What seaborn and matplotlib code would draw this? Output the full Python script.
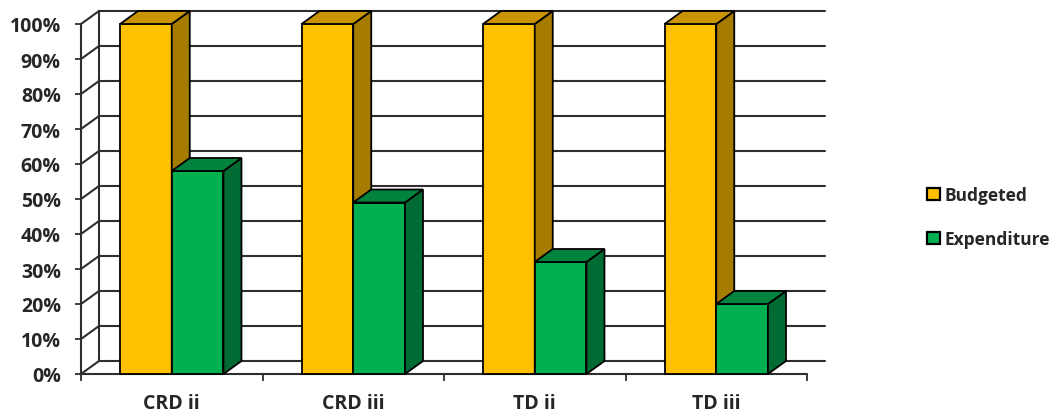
import numpy as np
import pandas as pd
import matplotlib
matplotlib.use("Agg")
import matplotlib.pyplot as plt
from matplotlib.patches import Polygon, Patch
import seaborn as sns

categories = ["CRD ii", "CRD iii", "TD ii", "TD iii"]
series_names = ["Budgeted", "Expenditure"]
budgeted = [100, 100, 100, 100]
expenditure = [58, 49, 32, 20]
y_ticks = [0, 10, 20, 30, 40, 50, 60, 70, 80, 90, 100]
y_tick_labels = [f"{v}%" for v in y_ticks]

front_colors = ["#FFC000", "#00B050"]
top_colors = ["#C99400", "#00843D"]
side_colors = ["#A67C00", "#006B32"]

df = pd.DataFrame({
    "category": categories * 2,
    "series": [series_names[0]] * 4 + [series_names[1]] * 4,
    "value": budgeted + expenditure,
})

sns.set_style("white")
FONT = ["Open Sans", "DejaVu Sans"]
plt.rcParams["font.family"] = FONT
plt.rcParams["font.weight"] = "bold"
FS = 14
LFS = 12.5

W, H = 1055, 414
fig = plt.figure(figsize=(W / 100, H / 100), dpi=100)
ax_left, ax_right, ax_bottom, ax_top = 81, 807, 375, 25
ax = fig.add_axes([ax_left / W, (H - ax_bottom) / H,
                   (ax_right - ax_left) / W, (ax_bottom - ax_top) / H])

sns.barplot(data=df, x="category", y="value", hue="series",
            palette=front_colors, width=0.57, edgecolor="black",
            linewidth=1.3, ax=ax, legend=False, saturation=1)

ax.set_xlim(-0.5, 3.5)
ax.set_ylim(0, 100)

# depth offsets (data units)
px_per_x = (ax_right - ax_left) / 4.0
px_per_y = (ax_bottom - ax_top) / 100.0
dx = 18 / px_per_x
dy = 13 / px_per_y

gcol = "#2e2e2e"
glw = 1.5
# back wall gridlines and left wall diagonals
for v in y_ticks:
    ax.plot([-0.5 + dx, 3.5 + dx], [v + dy, v + dy], color=gcol, lw=glw,
            clip_on=False, zorder=0.5)
    ax.plot([-0.5, -0.5 + dx], [v, v + dy], color=gcol, lw=glw,
            clip_on=False, zorder=0.5)
ax.plot([-0.5 + dx, -0.5 + dx], [dy, 100 + dy], color=gcol, lw=glw,
        clip_on=False, zorder=0.5)
ax.plot([-0.5, -0.5], [0, 100], color=gcol, lw=glw, clip_on=False, zorder=0.6)
ax.plot([-0.5, 3.5], [0, 0], color=gcol, lw=glw, clip_on=False, zorder=0.6)

# 3D faces for bars
for i, p in enumerate(ax.patches):
    h_idx = 0 if i < 4 else 1
    x0 = p.get_x()
    w = p.get_width()
    hgt = p.get_height()
    x1 = x0 + w
    z = 3 + h_idx
    p.set_zorder(z)
    top = Polygon([[x0, hgt], [x1, hgt], [x1 + dx, hgt + dy], [x0 + dx, hgt + dy]],
                  closed=True, facecolor=top_colors[h_idx], edgecolor="black",
                  lw=1.3, zorder=z, clip_on=False)
    side = Polygon([[x1, 0], [x1 + dx, dy], [x1 + dx, hgt + dy], [x1, hgt]],
                   closed=True, facecolor=side_colors[h_idx], edgecolor="black",
                   lw=1.3, zorder=z, clip_on=False)
    ax.add_patch(side)
    ax.add_patch(top)
    p.set_clip_on(False)

for s in ax.spines.values():
    s.set_visible(False)

ax.set_yticks(y_ticks)
ax.set_yticklabels(y_tick_labels)
ax.set_xticks(range(len(categories)))
ax.set_xticklabels(categories)
ax.set_xticks([-0.5, 0.5, 1.5, 2.5, 3.5], minor=True)
ax.tick_params(axis="y", which="major", left=True, length=4, width=1.3,
               color=gcol, pad=10.5, labelsize=FS)
ax.tick_params(axis="x", which="major", bottom=False, length=0, pad=14,
               labelsize=FS)
ax.tick_params(axis="x", which="minor", bottom=True, length=5, width=1.3,
               color=gcol)
for t in ax.get_xticklabels() + ax.get_yticklabels():
    t.set_fontweight("bold")
ax.set_xlabel("")
ax.set_ylabel("")

handles = [Patch(facecolor=front_colors[k], edgecolor="black", lw=1.6,
                 label=series_names[k]) for k in range(2)]
leg = fig.legend(handles=handles, loc="center left",
                 bbox_to_anchor=(927 / W, (H - 218) / H),
                 bbox_transform=fig.transFigure, frameon=False,
                 handlelength=0.72, handleheight=0.72, handletextpad=0.3,
                 labelspacing=1.5, borderpad=0, borderaxespad=0,
                 prop={"family": FONT, "weight": "bold", "size": LFS})

fig.savefig("out.png", dpi=100)
